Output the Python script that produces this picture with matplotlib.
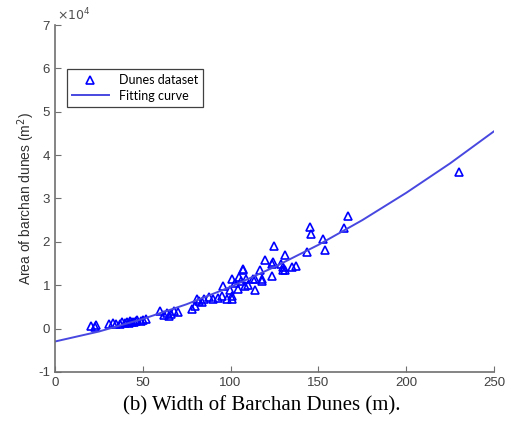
### Area vs width of barchan dunes, scatter with fitted curve ###

import matplotlib
matplotlib.use("Agg")
import matplotlib.pyplot as plt
import numpy as np

# Dune width (m) and area (m^2).
width = [20.5, 22.8, 23.5,
         31, 33, 35, 37, 38, 40, 41, 42, 43, 44, 45, 46, 47, 49, 50, 52,
         60, 62, 64, 65, 66, 68, 70,
         78, 80, 81, 82, 84, 85, 88, 90, 93, 95, 95.6, 98, 99.6, 100.7, 101,
         101, 102.4, 104, 105, 106, 107, 107, 108, 109, 110, 112.7, 114,
         114, 116.7, 118, 118, 119.5, 123.5, 123.5, 124, 125, 129, 130,
         130, 131, 131, 135, 137, 143.4, 145, 146, 152.5, 153.7, 164.5,
         166.8, 230]
area = [600, 300, 700,
        1000, 1200, 1100, 1000, 1500, 1200, 1500, 1300, 1800, 1400, 1500,
        1700, 2000, 1800, 2000, 2200,
        4000, 3200, 3500, 3000, 3300, 4000, 3800,
        4600, 5300, 6900, 6400, 6200, 6900, 7200, 6900, 7000, 7600, 9700,
        6900, 8800, 6700, 7600, 11500, 10400, 9200, 12000, 11000, 13400,
        13800, 9700, 11500, 10000, 11500, 8800, 11500, 13400, 11000,
        11500, 15700, 15000, 12200, 15400, 19100, 15000, 13400, 14300,
        17000, 13400, 14300, 14500, 17700, 23500, 21900, 20600, 18200,
        23300, 26000, 36000]

# Fitting curve, read at regular widths.
fit_w = [0, 25, 50, 75, 100, 125, 150, 175, 200, 225, 250]
fit_a = [-3000, -700, 2200, 5600, 9600, 14200, 19300, 25000, 31300, 38100, 45500]

plt.rcParams['font.family'] = ['Liberation Sans', 'DejaVu Sans']

fig = plt.figure(figsize=(5.13, 4.25), dpi=100)
ax = fig.add_axes([0.107, 0.125, 0.856, 0.816])

ax.plot(width, area, linestyle='none', marker='^', markersize=5.8,
        markerfacecolor='none', markeredgecolor='#0000ff', markeredgewidth=1.2,
        label='Dunes dataset')
ax.plot(fit_w, fit_a, color='#4848e0', linewidth=1.4, label='Fitting curve')

ax.set_xlim(0, 250)
ax.set_ylim(-10000, 70000)
ax.set_xticks(np.arange(0, 251, 50))
ax.set_yticks(np.arange(-10000, 70001, 10000))
ax.set_yticklabels([str(v) for v in range(-1, 8)])
ax.text(0.005, 1.005, r'$\times10^{4}$', transform=ax.transAxes,
        fontsize=9, color='#505050', va='bottom', ha='left')

for side in ['top', 'right']:
    ax.spines[side].set_visible(False)
for side in ['left', 'bottom']:
    ax.spines[side].set_color('#707070')
    ax.spines[side].set_linewidth(1.2)
ax.tick_params(direction='in', length=4, color='#707070',
               labelcolor='#404040', labelsize=9.5)

ax.set_ylabel('Area of barchan dunes (m$^2$)', fontsize=10, color='#303030',
              labelpad=1)
fig.text(0.51, 0.035, '(b) Width of Barchan Dunes (m).', ha='center',
         fontsize=15, family='Liberation Serif')

leg = ax.legend(loc='upper left', bbox_to_anchor=(0.027, 0.873),
                fancybox=False, edgecolor='#404040', framealpha=1,
                prop={'family': 'Lato', 'size': 9}, borderaxespad=0,
                handlelength=3, labelspacing=0.3)
leg.get_frame().set_linewidth(0.9)

plt.savefig('out.png', dpi=100)
